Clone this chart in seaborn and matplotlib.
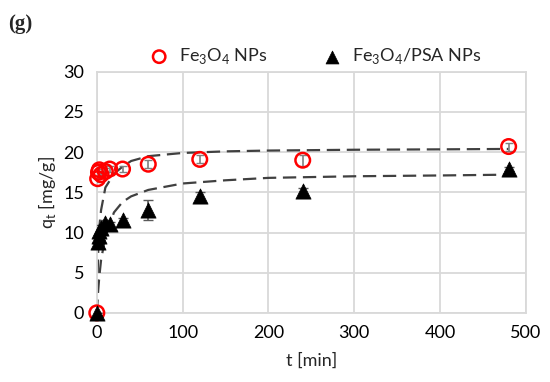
import matplotlib
matplotlib.use("Agg")
import matplotlib.pyplot as plt
import seaborn as sns
import pandas as pd

# Experimental data
t_exp = [0, 1, 2, 3, 5, 10, 15, 30, 60, 120, 240, 480]
q_fe3o4 = [0, 16.7, 17.5, 17.8, 17.2, 17.6, 17.9, 17.9, 18.5, 19.1, 19.0, 20.7]
err_fe3o4 = [0, 0.4, 0.4, 0.4, 0.4, 0.4, 0.4, 0.4, 0.5, 0.5, 0.7, 0.5]
q_psa = [0, 8.8, 9.6, 10.2, 10.6, 11.2, 11.0, 11.5, 12.8, 14.5, 15.2, 17.9]
err_psa = [0, 0.3, 0.3, 0.3, 0.3, 0.3, 0.3, 0.3, 1.3, 0.5, 0.4, 0.3]

# Fitted curves
t_fit = [0, 1, 2, 3, 5, 10, 20, 30, 40, 60, 100, 150, 200, 300, 400, 480]
q_fit_fe3o4 = [0, 5.0, 8.9, 10.8, 12.8, 15.6, 17.3, 18.2, 18.9, 19.5, 19.9, 20.1, 20.2, 20.3, 20.35, 20.4]
q_fit_psa = [0, 1.9, 3.3, 4.6, 6.6, 9.5, 12.5, 13.8, 14.5, 15.3, 16.1, 16.5, 16.8, 17.0, 17.1, 17.2]

labels = ["Fe$_3$O$_4$ NPs", "Fe$_3$O$_4$/PSA NPs"]
x_ticks = [0, 100, 200, 300, 400, 500]
y_ticks = [0, 5, 10, 15, 20, 25, 30]

sns.set_theme(style="white")
plt.rcParams['font.family'] = ['Lato', 'DejaVu Sans']
plt.rcParams['mathtext.fontset'] = 'custom'
plt.rcParams['mathtext.rm'] = 'Lato'

fig = plt.figure(figsize=(5.5, 3.82), dpi=100)
ax = fig.add_axes([0.176, 0.181, 0.78, 0.631])

fit_df = pd.DataFrame({"t": t_fit * 2,
                       "q": q_fit_fe3o4 + q_fit_psa,
                       "s": ["a"] * len(t_fit) + ["b"] * len(t_fit)})
sns.lineplot(data=fit_df, x="t", y="q", units="s", estimator=None, ax=ax,
             color="#404040", lw=1.6, dashes=False, legend=False, zorder=2)
for l in ax.get_lines():
    l.set_dashes([6, 3])

ax.errorbar(t_exp, q_fe3o4, yerr=err_fe3o4, fmt="none", ecolor="#7f7f7f",
            elinewidth=1.2, capsize=3, zorder=3)
ax.errorbar(t_exp, q_psa, yerr=err_psa, fmt="none", ecolor="#595959",
            elinewidth=1.2, capsize=3.5, zorder=3)

df = pd.DataFrame({"t": t_exp * 2, "q": q_fe3o4 + q_psa,
                   "series": [labels[0]] * len(t_exp) + [labels[1]] * len(t_exp)})
sns.scatterplot(data=df[df.series == labels[0]], x="t", y="q", ax=ax,
                marker="o", s=110, facecolor="none", edgecolor="#ff0000",
                linewidth=1.8, zorder=4, label=labels[0], clip_on=False)
sns.scatterplot(data=df[df.series == labels[1]], x="t", y="q", ax=ax,
                marker="^", s=120, color="black", edgecolor="black",
                linewidth=0.5, zorder=5, label=labels[1], clip_on=False)

ax.set_xlim(0, 500)
ax.set_ylim(0, 30)
ax.set_xticks(x_ticks)
ax.set_yticks(y_ticks)
ax.grid(True, color="#d9d9d9", lw=1.3)
ax.set_axisbelow(True)
for s in ax.spines.values():
    s.set_color("#d9d9d9")
    s.set_linewidth(1.3)
ax.tick_params(axis="both", labelsize=13, colors="black", length=0, pad=9)
ax.set_xlabel("t [min]", fontsize=13, labelpad=8)
ax.set_ylabel("q$_\\mathregular{t}$ [mg/g]", fontsize=13, labelpad=4)

leg = ax.legend(loc="lower center", bbox_to_anchor=(0.5, 0.985), ncol=2,
                frameon=False, fontsize=13, handletextpad=0.1,
                columnspacing=2.6, borderaxespad=0.1, markerscale=0.85)

fig.text(0.014, 0.925, "(g)", fontsize=15, fontweight="bold",
         family=["Liberation Serif", "DejaVu Serif"])

fig.savefig("out.png", dpi=100)
